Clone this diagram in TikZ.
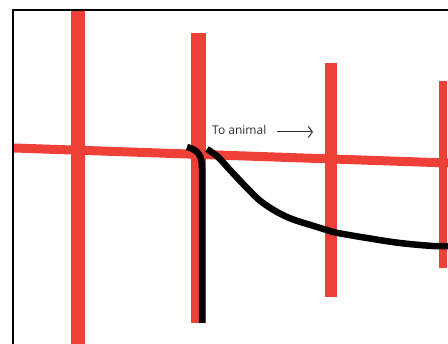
\documentclass[tikz,border=0pt]{standalone}
\usepackage{fontspec}
\setmainfont{Open Sans}
\usepackage{tikz}
\usetikzlibrary{arrows.meta,positioning}
\definecolor{wirered}{RGB}{238,64,54}
\definecolor{labelgray}{RGB}{40,48,54}

\begin{document}
\begin{tikzpicture}[x=1pt,y=-1pt,>=Stealth,
 fence/.style={wirered,line width=#1},
 lead/.style={black,line width=6.5pt},
 note/.style={labelgray,font=\fontsize{12}{14}\selectfont,inner sep=0pt}]
\useasboundingbox (0,0) rectangle (448,344);
% frame, cut at the right and at the bottom
\draw[line width=2pt] (13,344)--(13,10)--(448,10);
% wires
\draw[fence=9pt] (14,148)--(448,163);
\draw[fence=14pt] (78,11)--(78,344);
\draw[fence=15pt] (198,33)--(198,323);
\draw[fence=12pt] (331,63)--(331,297);
\draw[fence=8pt] (443,81)--(443,268);
% leads
\draw[lead] (187,147)
 .. controls (198,150) and (202,155) .. (202,168)--(202,323);
\draw[lead] plot[smooth,tension=.6] coordinates {(207,149) (218,157) (230,170)
 (247,188) (263,203) (287,217) (317,227) (333,232) (367,238) (400,243)
 (433,246) (448,246)};
% label
\node[note,anchor=west] (animal) at (212,130) {To animal};
\coordinate (animalend) at (313,132);
\draw[labelgray,line width=1pt,-{Straight Barb[length=4pt,width=11pt]}]
 (animal.east -| 277,0) ++(0,2)--(animalend);
\end{tikzpicture}
\end{document}
